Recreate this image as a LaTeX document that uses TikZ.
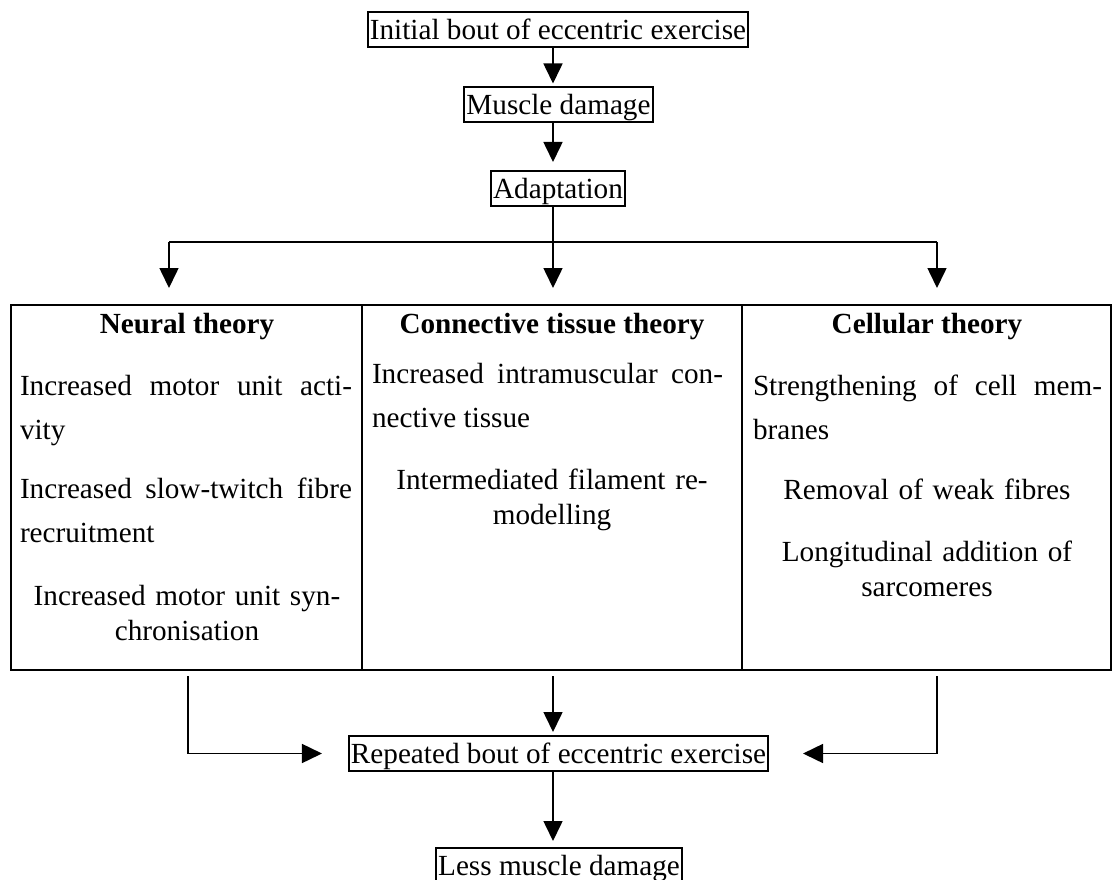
\documentclass[tikz,border=0pt]{standalone}
\usepackage{fontspec}
\setmainfont{Liberation Serif}
\usetikzlibrary{arrows.meta}

\newcommand\bodysize{\fontsize{29.2}{35}\selectfont}

\begin{document}
\begin{tikzpicture}[x=1pt, y=-1pt, font=\bodysize,
    box/.style={draw, line width=2pt, inner xsep=2pt, inner ysep=1.5pt,
      text height=26pt, text depth=6pt},
    column/.style={draw, line width=2pt, inner sep=0pt, minimum height=365pt},
    arr/.style={-{Triangle[length=20pt, width=19pt]}, line width=1.6pt},
    head/.style={anchor=base, font=\bodysize\bfseries},
    justi/.style={anchor=base, text width=#1, align=justify,
      font=\fontsize{29.2}{44}\selectfont},
    centre/.style={anchor=base, text width=#1, align=center,
      font=\fontsize{29.2}{35}\selectfont}]
  \useasboundingbox (0,0) rectangle (1112,880);

  % Haut
  \node[box] (init) at (558,30) {Initial bout of eccentric exercise};
  \node[box] (musc) at (558.5,105) {Muscle damage};
  \node[box] (adapt) at (558,188.5) {Adaptation};

  % Colonnes
  \node[column, minimum width=351pt] (neural) at (186.5,487.5) {};
  \node[column, minimum width=380pt] (connective) at (552,487.5) {};
  \node[column, minimum width=369pt] (cellular) at (926.5,487.5) {};

  \node[head] (hN) at (187,333) {Neural theory};
  \node[justi=332pt] (n1) at (186,395) {Increased motor unit acti-\linebreak vity};
  \node[justi=332pt] (n2) at (186,498) {Increased slow-twitch fibre\linebreak recruitment};
  \node[centre=340pt] (n3) at (187,605) {Increased motor unit syn-\\chronisation};

  \node[head] (hC) at (552,333) {Connective tissue theory};
  \node[justi=351pt] (c1) at (547.5,383) {Increased intramuscular con-\linebreak nective tissue};
  \node[centre=351pt] (c2) at (552,489) {Intermediated filament re-\\modelling};

  \node[head] (hS) at (927,333) {Cellular theory};
  \node[justi=349pt] (s1) at (927.5,395) {Strengthening of cell mem-\linebreak branes};
  \node[centre=349pt] (s2) at (927,499) {Removal of weak fibres};
  \node[centre=349pt] (s3) at (927,561) {Longitudinal addition of\\sarcomeres};

  % Bas
  \node[box] (rep) at (558.5,753.5) {Repeated bout of eccentric exercise};
  \node[box] (less) at (559,865.5) {Less muscle damage};

  % Fleches
  \coordinate (splitL) at (169,242);
  \coordinate (splitM) at (553,242);
  \coordinate (splitR) at (937,242);
  \coordinate (dropL) at (188,676);
  \coordinate (dropM) at (553,676);
  \coordinate (dropR) at (937,676);

  \draw[arr, shorten >=3pt] (init.south -| splitM) -- (musc.north -| splitM);
  \draw[arr, shorten >=8pt] (musc.south -| splitM) -- (adapt.north -| splitM);
  \draw[line width=1.6pt] (adapt.south -| splitM) -- (splitM);
  \draw[line width=1.6pt] (splitL) -- (splitR);
  \foreach \p/\q in {splitL/neural, splitM/connective, splitR/cellular} {
    \draw[arr, shorten >=16pt] (\p) -- (\p |- \q.north);
  }

  \draw[arr, shorten >=26pt] (dropL) |- (rep.west);
  \draw[arr, shorten >=3pt] (dropM) -- (rep.north -| dropM);
  \draw[arr, shorten >=34pt] (dropR) |- (rep.east);
  \draw[arr, shorten >=6pt] (rep.south -| dropM) -- (less.north -| dropM);
\end{tikzpicture}
\end{document}
